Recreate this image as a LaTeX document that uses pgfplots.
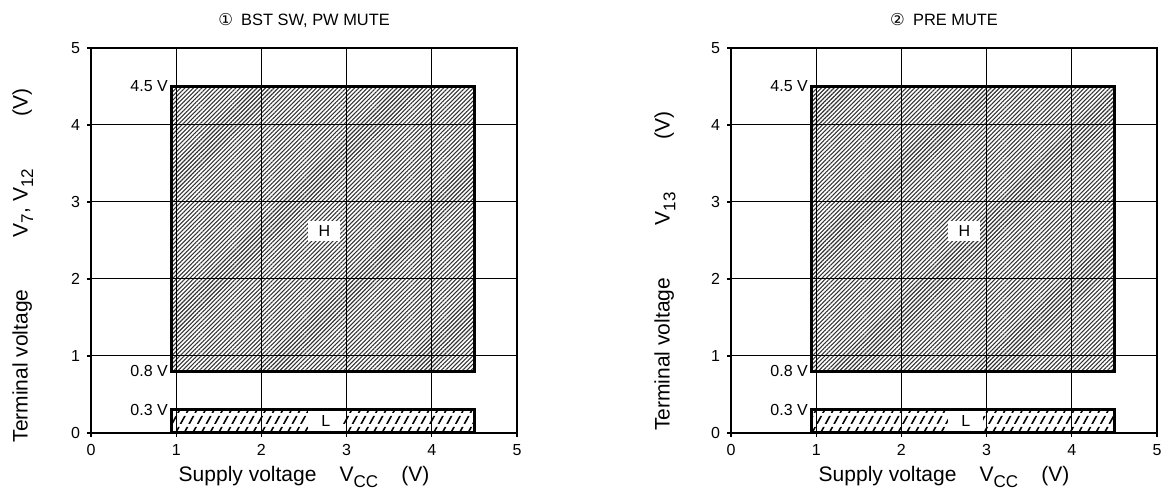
\documentclass[border=0pt]{standalone}
\usepackage{fontspec}
\setmainfont{Liberation Sans}
\newfontfamily\dejavu{DejaVu Sans}
\usepackage{pgfplots}
\pgfplotsset{compat=1.18}
\usetikzlibrary{patterns.meta}

% broken, steep hatching of the L band
\tikzdeclarepattern{
  name=dashhatch,
  type=uncolored,
  bottom left={(-1pt,0pt)},
  top right={(1pt,5.5pt)},
  tile size={(4.3pt,5.5pt)},
  tile transformation={xslant=0.55},
  code={\draw[line width=0.9pt] (0,0.6pt) -- (0,4.6pt);}
}

% subscript as the reference sets it: large and lowered
\newcommand{\sub}[1]{\raisebox{-0.5ex}{\fontsize{8.5}{10}\selectfont #1}}

\pgfplotsset{
  regionaxis/.style={
    scale only axis, width=213pt, height=192.5pt,
    anchor=south west,
    xmin=0, xmax=5, ymin=0, ymax=5,
    xtick={0,...,5}, ytick={0,...,5},
    grid=major, major grid style={black, line width=0.5pt},
    axis line style={line width=1pt},
    tick style={black, line width=0.6pt},
    tick align=outside, major tick length=2pt,
    xtick pos=bottom, ytick pos=left,
    tick label style={font=\fontsize{8}{9}\selectfont},
    /pgf/number format/assume math mode=true,
    axis on top, clip=false,
  },
}
\tikzset{
  hband/.style={draw=none, pattern={Lines[angle=45,distance=1.5pt,line width=0.55pt]}, pattern color=black!80},
  lband/.style={draw=none, pattern=dashhatch, pattern color=black},
  boxedge/.style={draw=black, line width=1.5pt, fill=none, line join=miter},
  lev/.style={anchor=east, font=\fontsize{8}{9}\selectfont, inner sep=1pt},
  tag/.style={fill=white, font=\fontsize{8}{9}\selectfont, inner sep=0pt},
}

\newcommand{\regions}{%
  \addplot[hband] coordinates {(0.94,0.8) (4.5,0.8) (4.5,4.5) (0.94,4.5)} -- cycle;
  \addplot[lband] coordinates {(0.94,0) (4.5,0) (4.5,0.3) (0.94,0.3)} -- cycle;
  \node[tag, minimum width=16pt, minimum height=10pt] at (axis cs:2.74,2.62) {H};
  \node[tag, minimum width=17.5pt, minimum height=11pt] at (axis cs:2.755,0.15) {L};
  \addplot[boxedge] coordinates {(0.94,0.8) (4.5,0.8) (4.5,4.5) (0.94,4.5)} -- cycle;
  \addplot[boxedge] coordinates {(0.94,0) (4.5,0) (4.5,0.3) (0.94,0.3)} -- cycle;
  \node[lev] at (axis cs:0.93,4.5) {4.5 V};
  \node[lev] at (axis cs:0.93,0.8) {0.8 V};
  \node[lev] at (axis cs:0.93,0.3) {0.3 V};
  \node[font=\fontsize{10.5}{12}\selectfont] at ([yshift=-22pt]axis description cs:0.5,0)
    {Supply voltage\hspace{1.1em}V\sub{CC}\hspace{1.1em}(V)};
}

\begin{document}
\begin{tikzpicture}
\begin{axis}[regionaxis, at={(45.5pt,34.5pt)}]
\regions
\node[font=\fontsize{8.2}{10}\selectfont] at ([yshift=14pt]axis description cs:0.5,1)
  {{\dejavu ①}\hspace{0.5em}BST SW, PW MUTE};
\node[rotate=90, font=\fontsize{10.5}{12}\selectfont] at (axis description cs:-0.16,0.435)
  {Terminal voltage\hspace{2.5em}V\sub{7}, V\sub{12}\hspace{2.5em}(V)};
\end{axis}

\begin{axis}[regionaxis, at={(365.5pt,34.5pt)}]
\regions
\node[font=\fontsize{8.2}{10}\selectfont] at ([yshift=14pt]axis description cs:0.5,1)
  {{\dejavu ②}\hspace{0.5em}PRE MUTE};
\node[rotate=90, font=\fontsize{10.5}{12}\selectfont] at (axis description cs:-0.155,0.42)
  {Terminal voltage\hspace{2.5em}V\sub{13}\hspace{2.5em}(V)};
\end{axis}
\pgfresetboundingbox
\path (0,0) rectangle (582pt,251pt);
\end{tikzpicture}
\end{document}
